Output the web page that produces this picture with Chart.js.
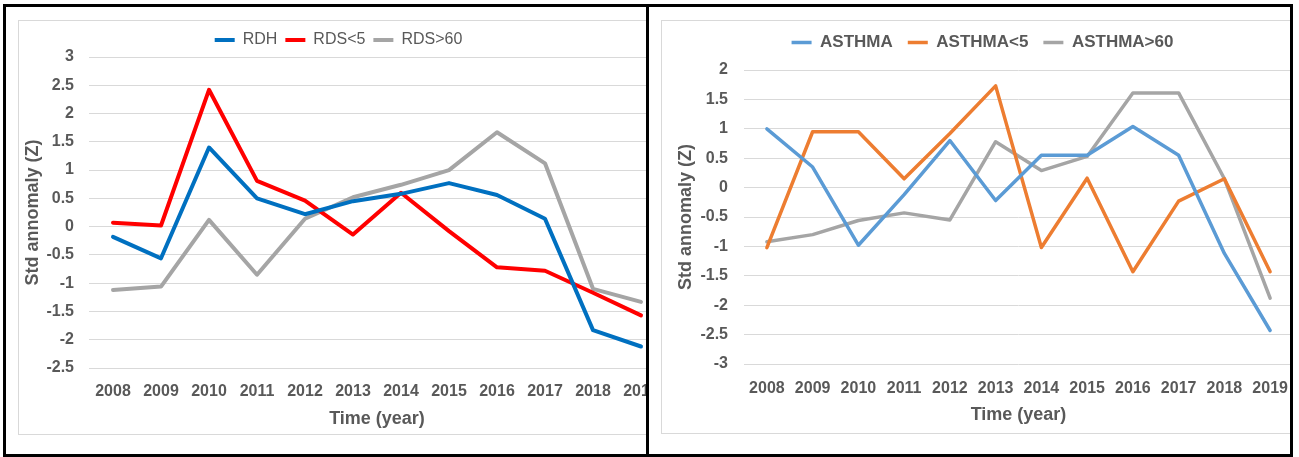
<!DOCTYPE html>
<html>
<head>
<meta charset="utf-8">
<script src="https://cdn.jsdelivr.net/npm/chart.js@4.4.0/dist/chart.umd.min.js"></script>
<style>
  body { margin: 0; background: #fff; width: 1299px; height: 457px; overflow: hidden; position: relative; }
  .bar { position: absolute; background: #000; }
  .panel { position: absolute; top: 7px; height: 447px; overflow: hidden; }
  .box { position: absolute; left: 12px; top: 13px; width: 700px; border: 1px solid #d9d9d9; }
  canvas { display: block; }
</style>
</head>
<body>
<div class="bar" style="left:3px;top:4px;width:1290px;height:3px"></div>
<div class="bar" style="left:3px;top:454px;width:1290px;height:3px"></div>
<div class="bar" style="left:3px;top:4px;width:3px;height:453px"></div>
<div class="bar" style="left:1290px;top:4px;width:3px;height:453px"></div>
<div class="bar" style="left:646px;top:4px;width:3px;height:453px"></div>

<div class="panel" style="left:6px;width:640px">
  <div class="box" style="height:413px"><canvas id="rdsChart" width="680" height="413"></canvas></div>
</div>
<div class="panel" style="left:649px;width:641px">
  <div class="box" style="height:412px"><canvas id="asthmaChart" width="660" height="412"></canvas></div>
</div>

<script>
// years on the x axis (both charts)
const years = ['2008', '2009', '2010', '2011', '2012', '2013', '2014', '2015', '2016', '2017', '2018', '2019']

// left chart: respiratory disease series
const rdh = [-0.18, -0.56, 1.40, 0.50, 0.22, 0.45, 0.58, 0.77, 0.56, 0.14, -1.83, -2.12]
const rdsUnder5 = [0.07, 0.02, 2.42, 0.81, 0.46, -0.14, 0.60, -0.08, -0.72, -0.78, -1.17, -1.57]
const rdsOver60 = [-1.12, -1.06, 0.12, -0.85, 0.14, 0.52, 0.74, 1.00, 1.67, 1.12, -1.10, -1.33]

// right chart: asthma series
const asthma = [1.00, 0.35, -0.98, -0.12, 0.80, -0.22, 0.55, 0.55, 1.04, 0.55, -1.12, -2.43]
const asthmaUnder5 = [-1.02, 0.95, 0.95, 0.15, 0.92, 1.73, -1.02, 0.16, -1.43, -0.23, 0.15, -1.43]
const asthmaOver60 = [-0.92, -0.80, -0.56, -0.43, -0.55, 0.78, 0.29, 0.53, 1.61, 1.61, 0.15, -1.88]

const textColor = '#595959'
Chart.defaults.font.family = "'Liberation Sans', Arial, sans-serif"
Chart.defaults.color = textColor

// fixes the legend block height so the plot area starts where it should
const legendBox = {
  id: 'legendBox',
  beforeLayout(chart, args, opts) {
    const legend = chart.legend
    if (!legend || legend._fixed) return
    const fit = legend.fit
    legend.fit = function () {
      fit.call(this)
      this.height = opts.height
    }
    legend._fixed = true
  }
}

const makeDataset = (label, data, color, width) => ({
  label,
  data,
  borderColor: color,
  backgroundColor: color,
  borderWidth: width,
  pointRadius: 0,
  tension: 0,
  borderJoinStyle: 'round',
  borderCapStyle: 'round'
})

const makeOptions = (cfg) => ({
  responsive: false,
  animation: false,
  layout: { padding: cfg.padding },
  plugins: {
    legendBox: { height: cfg.legendHeight },
    tooltip: { enabled: false },
    legend: {
      position: 'top',
      labels: {
        usePointStyle: true,
        pointStyle: 'line',
        pointStyleWidth: 20,
        padding: cfg.legendPadding,
        color: textColor,
        font: { size: cfg.legendSize, weight: cfg.legendWeight }
      }
    }
  },
  scales: {
    x: {
      offset: true,
      grid: { display: false },
      border: { display: false },
      ticks: { font: { size: 16, weight: 'bold' }, padding: cfg.xTickPad, maxRotation: 0, autoSkip: false },
      title: { display: true, text: 'Time (year)', font: { size: 18, weight: 'bold' }, padding: { top: 0, bottom: 0 } },
      afterFit: (scale) => { scale.height = cfg.xHeight }
    },
    y: {
      min: cfg.yMin,
      max: cfg.yMax,
      grid: { color: '#d9d9d9', drawTicks: false },
      border: { display: false },
      ticks: {
        stepSize: 0.5,
        padding: cfg.yTickPad,
        font: { size: 16, weight: 'bold' },
        callback: (v) => Math.round(v * 10) / 10
      },
      title: { display: true, text: 'Std annomaly (Z)', font: { size: 18, weight: 'bold' }, padding: { top: cfg.yTitlePad } },
      afterFit: (scale) => { scale.width = cfg.yWidth }
    }
  }
})

// left chart
new Chart(document.getElementById('rdsChart'), {
  type: 'line',
  data: {
    labels: years,
    datasets: [
      makeDataset('RDH', rdh, '#0070C0', 4),
      makeDataset('RDS<5', rdsUnder5, '#FF0000', 4),
      makeDataset('RDS>60', rdsOver60, '#A5A5A5', 4)
    ]
  },
  options: makeOptions({
    padding: { left: -7, top: 3, right: 34, bottom: 4 },
    legendHeight: 33, legendPadding: 8, legendSize: 16, legendWeight: 'normal',
    xHeight: 62, xTickPad: 6, yWidth: 77, yTickPad: 15, yTitlePad: 10,
    yMin: -2.5, yMax: 3
  }),
  plugins: [legendBox]
})

// right chart
new Chart(document.getElementById('asthmaChart'), {
  type: 'line',
  data: {
    labels: years,
    datasets: [
      makeDataset('ASTHMA', asthma, '#5B9BD5', 3.5),
      makeDataset('ASTHMA<5', asthmaUnder5, '#ED7D31', 3.5),
      makeDataset('ASTHMA>60', asthmaOver60, '#A5A5A5', 3.5)
    ]
  },
  options: makeOptions({
    padding: { left: 10, top: -2, right: 29, bottom: 7 },
    legendHeight: 51, legendPadding: 15, legendSize: 17, legendWeight: 'bold',
    xHeight: 62, xTickPad: 7, yWidth: 72, yTickPad: 16, yTitlePad: 3,
    yMin: -3, yMax: 2
  }),
  plugins: [legendBox]
})
</script>
</body>
</html>
